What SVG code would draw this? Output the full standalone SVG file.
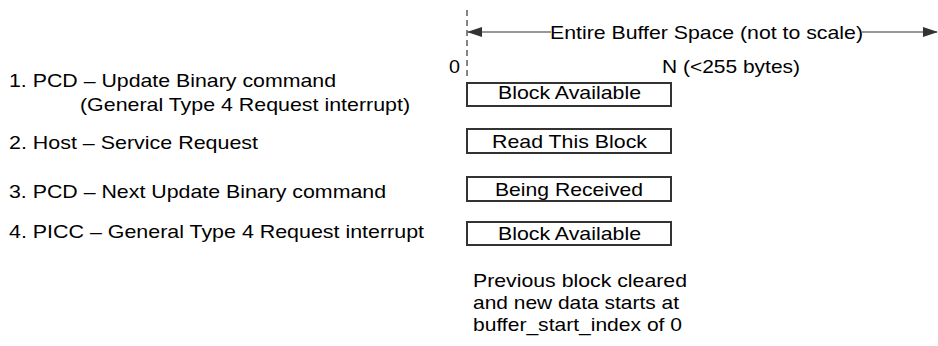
<svg xmlns="http://www.w3.org/2000/svg" width="938" height="346" viewBox="0 0 938 346">
<style>
text{font-family:"Liberation Sans",Arial,sans-serif;font-size:19px;fill:#000}
.box{fill:#fff;stroke:#333;stroke-width:2}
.ln{stroke:#333;stroke-width:1.2;fill:none}
</style>
<defs>
<marker id="ah" markerWidth="15" markerHeight="10" refX="14" refY="5" orient="auto-start-reverse" markerUnits="userSpaceOnUse">
<path d="M0,0 L15,5 L0,10 Z" fill="#333"/>
</marker>
</defs>
<rect width="938" height="346" fill="#fff"/>
<g id="connectors">
<line x1="467" y1="10" x2="467" y2="79" stroke="#333" stroke-width="1.2" stroke-dasharray="6,4"/>
<line class="ln" x1="468" y1="32" x2="551" y2="32" marker-start="url(#ah)"/>
<line class="ln" x1="862" y1="32" x2="937" y2="32" marker-end="url(#ah)"/>
</g>
<g id="header">
<text x="550" y="39" textLength="313" lengthAdjust="spacingAndGlyphs">Entire Buffer Space (not to scale)</text>
<text x="449" y="73" textLength="11" lengthAdjust="spacingAndGlyphs">0</text>
<text x="662" y="73" textLength="138" lengthAdjust="spacingAndGlyphs">N (&lt;255 bytes)</text>
</g>
<g id="step1">
<text x="9" y="87" textLength="327" lengthAdjust="spacingAndGlyphs">1. PCD – Update Binary command</text>
<text x="80" y="111" textLength="330" lengthAdjust="spacingAndGlyphs">(General Type 4 Request interrupt)</text>
<rect class="box" x="467" y="83" width="204" height="23"/>
<text x="498" y="99" textLength="143" lengthAdjust="spacingAndGlyphs">Block Available</text>
</g>
<g id="step2">
<text x="9" y="149" textLength="249" lengthAdjust="spacingAndGlyphs">2. Host – Service Request</text>
<rect class="box" x="467" y="129" width="204" height="24"/>
<text x="492" y="148" textLength="155" lengthAdjust="spacingAndGlyphs">Read This Block</text>
</g>
<g id="step3">
<text x="9" y="198" textLength="377" lengthAdjust="spacingAndGlyphs">3. PCD – Next Update Binary command</text>
<rect class="box" x="467" y="177" width="204" height="24"/>
<text x="495" y="196" textLength="148" lengthAdjust="spacingAndGlyphs">Being Received</text>
</g>
<g id="step4">
<text x="9" y="238" textLength="415" lengthAdjust="spacingAndGlyphs">4. PICC – General Type 4 Request interrupt</text>
<rect class="box" x="467" y="222" width="204" height="23"/>
<text x="498" y="240" textLength="143" lengthAdjust="spacingAndGlyphs">Block Available</text>
</g>
<g id="note">
<text x="473" y="287" textLength="214" lengthAdjust="spacingAndGlyphs">Previous block cleared</text>
<text x="473" y="309" textLength="206" lengthAdjust="spacingAndGlyphs">and new data starts at</text>
<text x="473" y="331" textLength="209" lengthAdjust="spacingAndGlyphs">buffer_start_index of 0</text>
</g>
</svg>
